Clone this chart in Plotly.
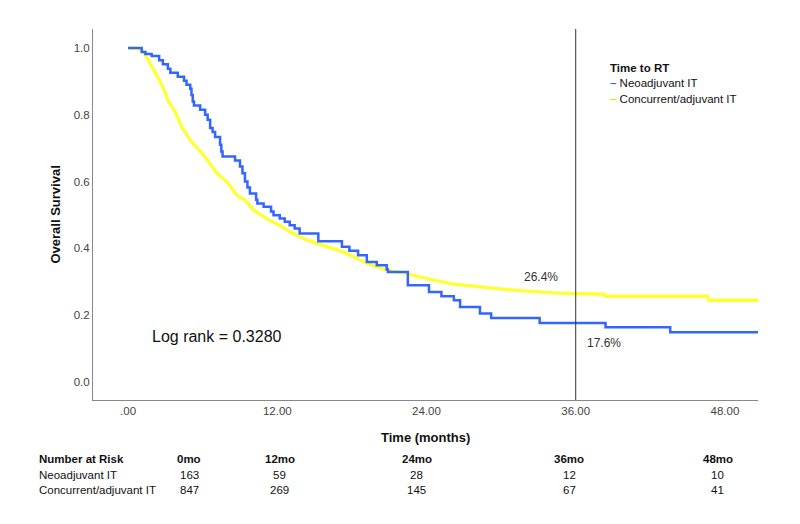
import plotly.graph_objects as go

# Kaplan-Meier estimates (months, survival)
neo_time = [0, 1.1, 1.4, 1.9, 2.5, 2.8, 3.2, 3.4, 4.0, 4.5,
            4.7, 5.0, 5.1, 5.2, 5.3, 5.8, 6.2, 6.4, 6.6, 6.8,
            7.0, 7.4, 7.5, 7.6, 8.6, 9.0, 9.2, 9.4, 9.6, 9.8,
            10.3, 10.4, 10.9, 11.5, 11.7, 12.2, 12.6, 13.0, 13.4, 13.8,
            15.3, 17.2, 17.8, 18.5, 19.2, 20.0, 20.8, 20.9, 22.5, 24.2,
            25.2, 26.2, 26.7, 28.3, 29.2, 33.1, 38.4, 43.6, 50.7]
neo_surv = [1.0, 0.988, 0.982, 0.976, 0.963, 0.951, 0.938, 0.926, 0.914, 0.902,
            0.890, 0.878, 0.859, 0.840, 0.828, 0.815, 0.800, 0.785, 0.760, 0.748,
            0.733, 0.710, 0.690, 0.675, 0.663, 0.645, 0.625, 0.600, 0.582, 0.564,
            0.545, 0.534, 0.524, 0.510, 0.499, 0.489, 0.479, 0.469, 0.459, 0.444,
            0.421, 0.404, 0.392, 0.379, 0.359, 0.349, 0.336, 0.329, 0.289, 0.269,
            0.256, 0.244, 0.224, 0.204, 0.191, 0.176, 0.163, 0.148, 0.148]

conc_time = [0, 0.8, 1.25, 1.8, 2.3, 2.85, 3.25, 3.8, 4.3, 5.0,
             5.5, 6.3, 7.15, 7.95, 8.75, 9.4, 10.1, 11.2, 12.5, 13.0,
             14.4, 15.7, 17.3, 19.2, 20.8, 22.4, 24.6, 26.2, 28.3, 31.0,
             34.2, 36.0, 38.3, 38.4, 46.6, 46.7, 50.7]
conc_surv = [1.0, 0.998, 0.989, 0.954, 0.919, 0.879, 0.839, 0.809, 0.764, 0.724,
             0.704, 0.669, 0.624, 0.599, 0.559, 0.544, 0.514, 0.487, 0.462, 0.449,
             0.424, 0.409, 0.389, 0.355, 0.334, 0.324, 0.304, 0.292, 0.284, 0.274,
             0.266, 0.264, 0.262, 0.256, 0.256, 0.244, 0.244]

x_ticks = [0, 12, 24, 36, 48]
x_tick_labels = ['.00', '12.00', '24.00', '36.00', '48.00']
y_ticks = [0.0, 0.2, 0.4, 0.6, 0.8, 1.0]
y_tick_labels = ['0.0', '0.2', '0.4', '0.6', '0.8', '1.0']

risk_cols = ['0mo', '12mo', '24mo', '36mo', '48mo']
risk_neo = [163, 59, 28, 12, 10]
risk_conc = [847, 269, 145, 67, 41]

BLUE = '#3366ff'
YELLOW = '#ffff33'
FONT = 'Arial, Liberation Sans, sans-serif'

fig = go.Figure()
fig.add_trace(go.Scatter(x=conc_time, y=conc_surv, mode='lines', name='Concurrent/adjuvant IT',
                         line=dict(color=YELLOW, width=3.3)))
fig.add_trace(go.Scatter(x=neo_time, y=neo_surv, mode='lines', name='Neoadjuvant IT',
                         line=dict(color=BLUE, width=2.5, shape='hv')))

# reference line at 36 months
fig.add_shape(type='line', x0=36, x1=36, y0=0, y1=1, xref='x', yref='paper',
              line=dict(color='#333333', width=1))

annotations = [
    dict(x=7.17, y=0.136, xref='x', yref='y', text='Log rank = 0.3280',
         font=dict(size=16, color='#111111')),
    dict(x=33.2, y=0.314, xref='x', yref='y', text='26.4%', font=dict(size=12, color='#333333')),
    dict(x=38.3, y=0.115, xref='x', yref='y', text='17.6%', font=dict(size=12, color='#333333')),
    # axis titles
    dict(x=0.5, y=-0.1024, xref='paper', yref='paper', text='<b>Time (months)</b>',
         font=dict(size=13, color='#111111')),
    dict(x=-0.0571, y=0.5, xref='paper', yref='paper', text='<b>Overall Survival</b>',
         textangle=-90, font=dict(size=13, color='#111111')),
    # legend
    dict(x=0.7744, y=0.8949, xref='paper', yref='paper', xanchor='left', text='<b>Time to RT</b>',
         font=dict(size=11.5, color='#111111')),
    dict(x=0.7744, y=0.8544, xref='paper', yref='paper', xanchor='left',
         text=f"<span style='color:{BLUE}'><b>–</b></span> Neoadjuvant IT",
         font=dict(size=11.5, color='#111111')),
    dict(x=0.7744, y=0.8113, xref='paper', yref='paper', xanchor='left',
         text=f"<span style='color:#e6e600'><b>–</b></span> Concurrent/adjuvant IT",
         font=dict(size=11.5, color='#111111')),
]

# number at risk table
row_y = [-0.159, -0.2009, -0.2439]
col_x = [0.1444, 0.2812, 0.4872, 0.7158, 0.9398]
row_names = ['<b>Number at Risk</b>', 'Neoadjuvant IT', 'Concurrent/adjuvant IT']
row_vals = [[f'<b>{c}</b>' for c in risk_cols], risk_neo, risk_conc]
for name, vals, ry in zip(row_names, row_vals, row_y):
    annotations.append(dict(x=-0.0842, y=ry, xref='paper', yref='paper', xanchor='left',
                            text=name, font=dict(size=11.5, color='#111111')))
    for v, cx in zip(vals, col_x):
        annotations.append(dict(x=cx, y=ry, xref='paper', yref='paper', text=str(v),
                                font=dict(size=11.5, color='#111111')))

for a in annotations:
    a['showarrow'] = False
    a.setdefault('xanchor', 'center')
    a['yanchor'] = 'middle'

# page body adds an 8px offset, margins compensate for it
fig.update_layout(
    width=800, height=524,
    margin=dict(l=85, r=50, t=21, b=132),
    paper_bgcolor='white', plot_bgcolor='white',
    font=dict(family=FONT),
    showlegend=False,
    annotations=annotations,
    xaxis=dict(range=[-2.82, 50.66], tickmode='array', tickvals=x_ticks, ticktext=x_tick_labels,
               showgrid=False, zeroline=False, showline=True, linecolor='#888888', linewidth=1,
               ticks='', tickfont=dict(size=11.5, color='#444444')),
    yaxis=dict(range=[-0.055, 1.057], tickmode='array', tickvals=y_ticks, ticktext=y_tick_labels,
               showgrid=False, zeroline=False, showline=True, linecolor='#888888', linewidth=1,
               ticks='', tickfont=dict(size=11.5, color='#444444')),
)

fig.write_html('out.html')
